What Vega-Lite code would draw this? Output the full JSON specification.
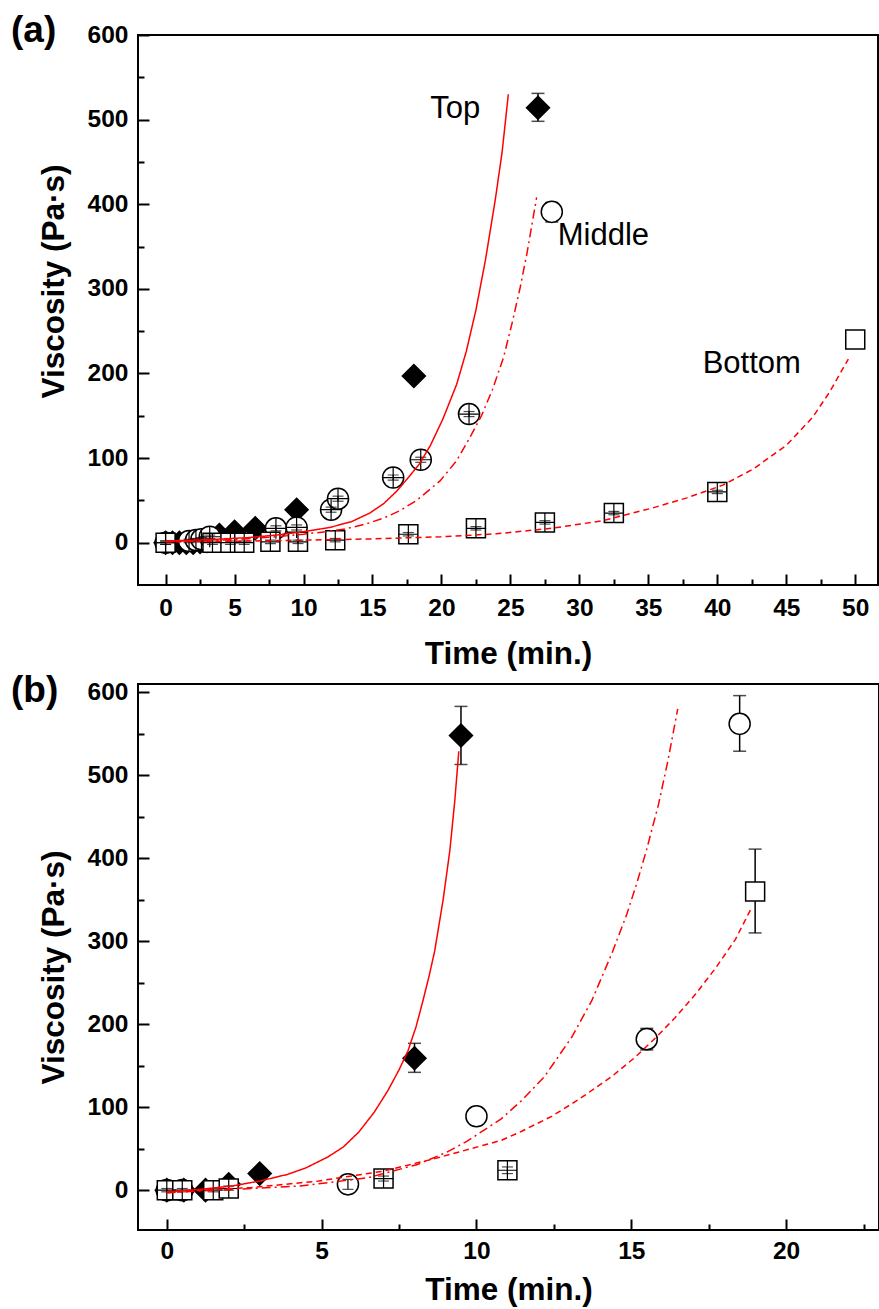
{
  "$schema": "https://vega.github.io/schema/vega-lite/v6.json",
  "background": "white",
  "padding": {"left": 10, "top": 11, "right": 0, "bottom": 0},
  "autosize": {"type": "pad"},
  "config": {
    "view": {"stroke": "black", "strokeWidth": 2},
    "font": "Liberation Sans",
    "axis": {"grid": false, "domain": false, "labelFont": "Liberation Sans", "labelFontSize": 24.5, "labelFontWeight": "bold", "labelColor": "black", "titleFont": "Liberation Sans", "titleFontSize": 31.5, "titleFontWeight": "bold", "titleColor": "black", "tickColor": "black", "tickWidth": 2},
    "title": {"font": "Liberation Sans", "fontSize": 37, "fontWeight": "bold", "anchor": "start", "frame": "group", "color": "black", "baseline": "bottom"}
  },
  "datasets": {
    "pointsA": [
      {"t": 0, "v": 0, "series": "Top"},
      {"t": 0.5, "v": 0, "series": "Top"},
      {"t": 1, "v": 0, "series": "Top"},
      {"t": 1.5, "v": 0, "series": "Top"},
      {"t": 2, "v": 0, "series": "Top"},
      {"t": 2.5, "v": 1, "series": "Top"},
      {"t": 3, "v": 2, "series": "Top"},
      {"t": 3.9, "v": 9, "series": "Top"},
      {"t": 5, "v": 13, "series": "Top"},
      {"t": 6.5, "v": 17, "series": "Top"},
      {"t": 9.5, "v": 39, "series": "Top"},
      {"t": 18, "v": 197, "series": "Top"},
      {"t": 27, "v": 514, "lo": 498, "hi": 531, "series": "Top"},
      {"t": 0, "v": 0, "lo": -2, "hi": 2, "plus": true, "series": "Middle"},
      {"t": 1.7, "v": 2, "lo": 0, "hi": 4, "plus": true, "series": "Middle"},
      {"t": 2.2, "v": 3, "lo": 1, "hi": 5, "plus": true, "series": "Middle"},
      {"t": 2.6, "v": 4, "lo": 2, "hi": 6, "plus": true, "series": "Middle"},
      {"t": 3.2, "v": 7, "lo": 5, "hi": 9, "plus": true, "series": "Middle"},
      {"t": 8, "v": 17, "lo": 14, "hi": 20, "plus": true, "series": "Middle"},
      {"t": 9.5, "v": 18, "lo": 15, "hi": 21, "plus": true, "series": "Middle"},
      {"t": 12, "v": 39, "lo": 36, "hi": 42, "plus": true, "series": "Middle"},
      {"t": 12.5, "v": 52, "lo": 49, "hi": 55, "plus": true, "series": "Middle"},
      {"t": 16.5, "v": 77, "lo": 74, "hi": 80, "plus": true, "series": "Middle"},
      {"t": 18.5, "v": 98, "lo": 95, "hi": 101, "plus": true, "series": "Middle"},
      {"t": 22, "v": 152, "lo": 149, "hi": 155, "plus": true, "series": "Middle"},
      {"t": 28, "v": 391, "lo": 379, "hi": 402, "series": "Middle"},
      {"t": 0, "v": 0, "lo": -2, "hi": 2, "plus": true, "series": "Bottom"},
      {"t": 3.4, "v": 0, "lo": -2, "hi": 2, "plus": true, "series": "Bottom"},
      {"t": 4.7, "v": 0, "lo": -2, "hi": 2, "plus": true, "series": "Bottom"},
      {"t": 5.7, "v": 0, "lo": -2, "hi": 2, "plus": true, "series": "Bottom"},
      {"t": 7.6, "v": 1, "lo": -1, "hi": 3, "plus": true, "series": "Bottom"},
      {"t": 9.6, "v": 1, "lo": -1, "hi": 3, "plus": true, "series": "Bottom"},
      {"t": 12.3, "v": 3, "lo": 1, "hi": 5, "plus": true, "series": "Bottom"},
      {"t": 17.6, "v": 10, "lo": 8, "hi": 12, "plus": true, "series": "Bottom"},
      {"t": 22.5, "v": 17, "lo": 15, "hi": 19, "plus": true, "series": "Bottom"},
      {"t": 27.5, "v": 24, "lo": 22, "hi": 26, "plus": true, "series": "Bottom"},
      {"t": 32.5, "v": 35, "lo": 33, "hi": 37, "plus": true, "series": "Bottom"},
      {"t": 40, "v": 60, "lo": 58, "hi": 62, "plus": true, "series": "Bottom"},
      {"t": 50, "v": 240, "series": "Bottom"}
    ],
    "linesA": [
      {"t": 0, "v": 2, "series": "Top"},
      {"t": 3, "v": 3.5, "series": "Top"},
      {"t": 6, "v": 6, "series": "Top"},
      {"t": 8, "v": 9, "series": "Top"},
      {"t": 10, "v": 13, "series": "Top"},
      {"t": 11.9, "v": 18, "series": "Top"},
      {"t": 13.5, "v": 25, "series": "Top"},
      {"t": 14.8, "v": 35, "series": "Top"},
      {"t": 15.8, "v": 46, "series": "Top"},
      {"t": 16.7, "v": 60, "series": "Top"},
      {"t": 17.5, "v": 75, "series": "Top"},
      {"t": 18.4, "v": 93, "series": "Top"},
      {"t": 19.2, "v": 115, "series": "Top"},
      {"t": 20.1, "v": 146, "series": "Top"},
      {"t": 21.1, "v": 187, "series": "Top"},
      {"t": 21.8, "v": 226, "series": "Top"},
      {"t": 22.5, "v": 275, "series": "Top"},
      {"t": 23.2, "v": 335, "series": "Top"},
      {"t": 23.9, "v": 405, "series": "Top"},
      {"t": 24.4, "v": 462, "series": "Top"},
      {"t": 24.85, "v": 530, "series": "Top"},
      {"t": 0, "v": 1, "series": "Middle"},
      {"t": 5, "v": 3.5, "series": "Middle"},
      {"t": 8, "v": 7, "series": "Middle"},
      {"t": 10, "v": 10, "series": "Middle"},
      {"t": 11.6, "v": 13, "series": "Middle"},
      {"t": 13.1, "v": 16.5, "series": "Middle"},
      {"t": 14.5, "v": 22, "series": "Middle"},
      {"t": 15.8, "v": 29, "series": "Middle"},
      {"t": 17, "v": 38, "series": "Middle"},
      {"t": 18.2, "v": 50, "series": "Middle"},
      {"t": 19.9, "v": 73, "series": "Middle"},
      {"t": 21.1, "v": 97, "series": "Middle"},
      {"t": 22.05, "v": 124, "series": "Middle"},
      {"t": 22.9, "v": 150, "series": "Middle"},
      {"t": 23.7, "v": 181, "series": "Middle"},
      {"t": 24.5, "v": 219, "series": "Middle"},
      {"t": 25.1, "v": 258, "series": "Middle"},
      {"t": 25.7, "v": 301, "series": "Middle"},
      {"t": 26.2, "v": 342, "series": "Middle"},
      {"t": 26.9, "v": 408, "series": "Middle"},
      {"t": 0, "v": 1, "series": "Bottom"},
      {"t": 5, "v": 1.7, "series": "Bottom"},
      {"t": 10, "v": 3, "series": "Bottom"},
      {"t": 15, "v": 4.5, "series": "Bottom"},
      {"t": 20, "v": 7, "series": "Bottom"},
      {"t": 24, "v": 10.5, "series": "Bottom"},
      {"t": 28, "v": 17, "series": "Bottom"},
      {"t": 31.7, "v": 26, "series": "Bottom"},
      {"t": 35.3, "v": 41, "series": "Bottom"},
      {"t": 37.8, "v": 53, "series": "Bottom"},
      {"t": 40.4, "v": 68, "series": "Bottom"},
      {"t": 42.6, "v": 87, "series": "Bottom"},
      {"t": 45, "v": 115, "series": "Bottom"},
      {"t": 46.9, "v": 148, "series": "Bottom"},
      {"t": 48.1, "v": 177, "series": "Bottom"},
      {"t": 49.5, "v": 217, "series": "Bottom"}
    ],
    "labelsA": [
      {"t": 21.0, "v": 512, "label": "Top"},
      {"t": 31.74, "v": 362, "label": "Middle"},
      {"t": 42.5, "v": 211, "label": "Bottom"}
    ],
    "pointsB": [
      {"t": 0, "v": 0, "series": "Top"},
      {"t": 0.55, "v": 0, "series": "Top"},
      {"t": 1.25, "v": 0, "series": "Top"},
      {"t": 2, "v": 7, "series": "Top"},
      {"t": 3, "v": 20, "series": "Top"},
      {"t": 8, "v": 159, "lo": 142, "hi": 177, "series": "Top"},
      {"t": 9.5, "v": 548, "lo": 513, "hi": 583, "series": "Top"},
      {"t": 0, "v": 0, "series": "Middle"},
      {"t": 0.5, "v": 0, "series": "Middle"},
      {"t": 5.85, "v": 7, "lo": 1, "hi": 13, "series": "Middle"},
      {"t": 10, "v": 89, "lo": 79, "hi": 99, "series": "Middle"},
      {"t": 15.5, "v": 182, "lo": 169, "hi": 195, "series": "Middle"},
      {"t": 18.5, "v": 562, "lo": 529, "hi": 596, "series": "Middle"},
      {"t": 0, "v": 0, "lo": -2, "hi": 2, "plus": true, "series": "Bottom"},
      {"t": 0.5, "v": 0, "lo": -2, "hi": 2, "plus": true, "series": "Bottom"},
      {"t": 1.5, "v": 0, "lo": -2, "hi": 2, "plus": true, "series": "Bottom"},
      {"t": 2, "v": 2, "lo": 0, "hi": 5, "plus": true, "series": "Bottom"},
      {"t": 7, "v": 14, "lo": 11, "hi": 17, "plus": true, "series": "Bottom"},
      {"t": 11, "v": 24, "lo": 20, "hi": 28, "plus": true, "series": "Bottom"},
      {"t": 19, "v": 360, "lo": 310, "hi": 411, "series": "Bottom"}
    ],
    "linesB": [
      {"t": 0, "v": -2, "series": "Top"},
      {"t": 1.1, "v": 1, "series": "Top"},
      {"t": 2.1, "v": 5, "series": "Top"},
      {"t": 3.0, "v": 11, "series": "Top"},
      {"t": 3.9, "v": 19, "series": "Top"},
      {"t": 4.5, "v": 27, "series": "Top"},
      {"t": 5.2, "v": 40, "series": "Top"},
      {"t": 5.7, "v": 52, "series": "Top"},
      {"t": 6.2, "v": 70, "series": "Top"},
      {"t": 6.7, "v": 94, "series": "Top"},
      {"t": 7.14, "v": 120, "series": "Top"},
      {"t": 7.5, "v": 145, "series": "Top"},
      {"t": 7.79, "v": 168, "series": "Top"},
      {"t": 8.05, "v": 197, "series": "Top"},
      {"t": 8.27, "v": 228, "series": "Top"},
      {"t": 8.47, "v": 258, "series": "Top"},
      {"t": 8.65, "v": 288, "series": "Top"},
      {"t": 8.92, "v": 349, "series": "Top"},
      {"t": 9.14, "v": 409, "series": "Top"},
      {"t": 9.30, "v": 469, "series": "Top"},
      {"t": 9.43, "v": 529, "series": "Top"},
      {"t": 0, "v": -3, "series": "Middle"},
      {"t": 2.2, "v": 1, "series": "Middle"},
      {"t": 4.3, "v": 5, "series": "Middle"},
      {"t": 6.5, "v": 15, "series": "Middle"},
      {"t": 8.1, "v": 31, "series": "Middle"},
      {"t": 9.0, "v": 45, "series": "Middle"},
      {"t": 9.7, "v": 59, "series": "Middle"},
      {"t": 10.8, "v": 86, "series": "Middle"},
      {"t": 11.46, "v": 108, "series": "Middle"},
      {"t": 12.2, "v": 137, "series": "Middle"},
      {"t": 13.07, "v": 184, "series": "Middle"},
      {"t": 13.72, "v": 228, "series": "Middle"},
      {"t": 14.37, "v": 285, "series": "Middle"},
      {"t": 14.85, "v": 332, "series": "Middle"},
      {"t": 15.18, "v": 370, "series": "Middle"},
      {"t": 15.5, "v": 411, "series": "Middle"},
      {"t": 15.88, "v": 465, "series": "Middle"},
      {"t": 16.18, "v": 517, "series": "Middle"},
      {"t": 16.5, "v": 580, "series": "Middle"},
      {"t": 0, "v": -3, "series": "Bottom"},
      {"t": 1.1, "v": 0, "series": "Bottom"},
      {"t": 2.7, "v": 3, "series": "Bottom"},
      {"t": 4.9, "v": 11, "series": "Bottom"},
      {"t": 7.0, "v": 23, "series": "Bottom"},
      {"t": 8.65, "v": 38, "series": "Bottom"},
      {"t": 10.8, "v": 60, "series": "Bottom"},
      {"t": 11.46, "v": 71, "series": "Bottom"},
      {"t": 12.43, "v": 89, "series": "Bottom"},
      {"t": 13.29, "v": 109, "series": "Bottom"},
      {"t": 14.37, "v": 137, "series": "Bottom"},
      {"t": 15.12, "v": 160, "series": "Bottom"},
      {"t": 15.77, "v": 183, "series": "Bottom"},
      {"t": 16.42, "v": 208, "series": "Bottom"},
      {"t": 17.07, "v": 236, "series": "Bottom"},
      {"t": 17.71, "v": 267, "series": "Bottom"},
      {"t": 18.36, "v": 302, "series": "Bottom"},
      {"t": 18.88, "v": 340, "series": "Bottom"}
    ]
  },
  "spacing": 99,
  "bounds": "flush",
  "vconcat": [
    {
      "width": 740,
      "height": 550,
      "title": {"text": "(a)", "dx": -127, "dy": 32},
      "resolve": {"axis": {"x": "independent", "y": "independent"}},
      "layer": [
        {
          "data": {"name": "pointsA"},
          "transform": [{"filter": "isValid(datum.lo) && datum.hi - datum.lo >= 18"}],
          "mark": {"type": "errorbar", "ticks": true, "size": 13, "thickness": 1.5, "color": "black"},
          "encoding": {
            "x": {"field": "t", "type": "quantitative", "scale": {"domain": [-2, 51.65], "nice": false, "zero": false}, "axis": null},
            "y": {"field": "lo", "type": "quantitative", "scale": {"domain": [-50, 600], "nice": false, "zero": false}, "axis": null},
            "y2": {"field": "hi"}
          }
        },
        {
          "data": {"name": "pointsA"},
          "mark": {"type": "point", "filled": true, "stroke": "black", "strokeWidth": 1.5, "opacity": 1},
          "encoding": {
            "x": {"field": "t", "type": "quantitative", "scale": {"domain": [-2, 51.65], "nice": false, "zero": false},
                  "axis": {"orient": "bottom", "values": [2.5, 7.5, 12.5, 17.5, 22.5, 27.5, 32.5, 37.5, 42.5, 47.5], "tickSize": -6, "labels": false, "title": null}},
            "y": {"field": "v", "type": "quantitative", "scale": {"domain": [-50, 600], "nice": false, "zero": false},
                  "axis": {"orient": "left", "values": [50, 150, 250, 350, 450, 550], "tickSize": -6, "labels": false, "title": null}},
            "shape": {"field": "series", "type": "nominal", "scale": {"domain": ["Top", "Middle", "Bottom"], "range": ["diamond", "circle", "square"]}, "legend": null},
            "fill": {"field": "series", "type": "nominal", "scale": {"domain": ["Top", "Middle", "Bottom"], "range": ["black", "white", "white"]}, "legend": null},
            "size": {"field": "series", "type": "nominal", "scale": {"domain": ["Top", "Middle", "Bottom"], "range": [529, 361, 256]}, "legend": null}
          }
        },
        {
          "data": {"name": "pointsA"},
          "transform": [{"filter": "isValid(datum.lo) && datum.hi - datum.lo < 18"}],
          "mark": {"type": "errorbar", "ticks": true, "size": 11, "thickness": 1.2, "color": "black"},
          "encoding": {
            "x": {"field": "t", "type": "quantitative", "scale": {"domain": [-2, 51.65], "nice": false, "zero": false}, "axis": null},
            "y": {"field": "lo", "type": "quantitative", "scale": {"domain": [-50, 600], "nice": false, "zero": false}, "axis": null},
            "y2": {"field": "hi"}
          }
        },
        {
          "data": {"name": "pointsA"},
          "transform": [{"filter": "datum.plus === true"}],
          "mark": {"type": "point", "filled": false, "stroke": "black", "strokeWidth": 1.2, "shape": "M-1,0L1,0M0,-1L0,1", "opacity": 1},
          "encoding": {
            "x": {"field": "t", "type": "quantitative", "scale": {"domain": [-2, 51.65], "nice": false, "zero": false}, "axis": null},
            "y": {"field": "v", "type": "quantitative", "scale": {"domain": [-50, 600], "nice": false, "zero": false}, "axis": null},
            "size": {"field": "series", "type": "nominal", "scale": {"domain": ["Top", "Middle", "Bottom"], "range": [529, 361, 256]}, "legend": null}
          }
        },
        {
          "data": {"name": "linesA"},
          "mark": {"type": "line", "color": "#ff0000", "strokeWidth": 1.5},
          "encoding": {
            "x": {"field": "t", "type": "quantitative", "scale": {"domain": [-2, 51.65], "nice": false, "zero": false},
                  "axis": {"orient": "bottom", "values": [0, 5, 10, 15, 20, 25, 30, 35, 40, 45, 50], "tickSize": -11, "labelPadding": 22, "title": "Time (min.)", "titlePadding": 19}},
            "y": {"field": "v", "type": "quantitative", "scale": {"domain": [-50, 600], "nice": false, "zero": false},
                  "axis": {"orient": "left", "values": [0, 100, 200, 300, 400, 500, 600], "tickSize": -11, "labelPadding": 21, "title": "Viscosity (Pa·s)", "titlePadding": 17, "titleY": 246}},
            "strokeDash": {"field": "series", "type": "nominal", "scale": {"domain": ["Top", "Middle", "Bottom"], "range": [[1, 0], [9, 4, 2, 4], [6, 4]]}, "legend": null}
          }
        },
        {
          "data": {"name": "labelsA"},
          "mark": {"type": "text", "fontSize": 31, "font": "Liberation Sans", "color": "black", "align": "center", "baseline": "middle"},
          "encoding": {
            "x": {"field": "t", "type": "quantitative", "scale": {"domain": [-2, 51.65], "nice": false, "zero": false}, "axis": null},
            "y": {"field": "v", "type": "quantitative", "scale": {"domain": [-50, 600], "nice": false, "zero": false}, "axis": null},
            "text": {"field": "label"}
          }
        }
      ]
    },
    {
      "width": 741,
      "height": 546,
      "title": {"text": "(b)", "dx": -127, "dy": 35},
      "resolve": {"axis": {"x": "independent", "y": "independent"}},
      "layer": [
        {
          "data": {"name": "pointsB"},
          "transform": [{"filter": "isValid(datum.lo) && datum.hi - datum.lo >= 18"}],
          "mark": {"type": "errorbar", "ticks": true, "size": 13, "thickness": 1.5, "color": "black"},
          "encoding": {
            "x": {"field": "t", "type": "quantitative", "scale": {"domain": [-0.93, 23], "nice": false, "zero": false}, "axis": null},
            "y": {"field": "lo", "type": "quantitative", "scale": {"domain": [-48, 610], "nice": false, "zero": false}, "axis": null},
            "y2": {"field": "hi"}
          }
        },
        {
          "data": {"name": "pointsB"},
          "mark": {"type": "point", "filled": true, "stroke": "black", "strokeWidth": 1.5, "opacity": 1},
          "encoding": {
            "x": {"field": "t", "type": "quantitative", "scale": {"domain": [-0.93, 23], "nice": false, "zero": false},
                  "axis": {"orient": "bottom", "values": [2.5, 7.5, 12.5, 17.5, 22.5], "tickSize": -6, "labels": false, "title": null}},
            "y": {"field": "v", "type": "quantitative", "scale": {"domain": [-48, 610], "nice": false, "zero": false},
                  "axis": {"orient": "left", "values": [50, 150, 250, 350, 450, 550], "tickSize": -6, "labels": false, "title": null}},
            "shape": {"field": "series", "type": "nominal", "scale": {"domain": ["Top", "Middle", "Bottom"], "range": ["diamond", "circle", "square"]}, "legend": null},
            "fill": {"field": "series", "type": "nominal", "scale": {"domain": ["Top", "Middle", "Bottom"], "range": ["black", "white", "white"]}, "legend": null},
            "size": {"field": "series", "type": "nominal", "scale": {"domain": ["Top", "Middle", "Bottom"], "range": [529, 361, 256]}, "legend": null}
          }
        },
        {
          "data": {"name": "pointsB"},
          "transform": [{"filter": "isValid(datum.lo) && datum.hi - datum.lo < 18"}],
          "mark": {"type": "errorbar", "ticks": true, "size": 11, "thickness": 1.2, "color": "black"},
          "encoding": {
            "x": {"field": "t", "type": "quantitative", "scale": {"domain": [-0.93, 23], "nice": false, "zero": false}, "axis": null},
            "y": {"field": "lo", "type": "quantitative", "scale": {"domain": [-48, 610], "nice": false, "zero": false}, "axis": null},
            "y2": {"field": "hi"}
          }
        },
        {
          "data": {"name": "pointsB"},
          "transform": [{"filter": "datum.plus === true"}],
          "mark": {"type": "point", "filled": false, "stroke": "black", "strokeWidth": 1.2, "shape": "M-1,0L1,0M0,-1L0,1", "opacity": 1},
          "encoding": {
            "x": {"field": "t", "type": "quantitative", "scale": {"domain": [-0.93, 23], "nice": false, "zero": false}, "axis": null},
            "y": {"field": "v", "type": "quantitative", "scale": {"domain": [-48, 610], "nice": false, "zero": false}, "axis": null},
            "size": {"field": "series", "type": "nominal", "scale": {"domain": ["Top", "Middle", "Bottom"], "range": [529, 361, 256]}, "legend": null}
          }
        },
        {
          "data": {"name": "linesB"},
          "mark": {"type": "line", "color": "#ff0000", "strokeWidth": 1.5},
          "encoding": {
            "x": {"field": "t", "type": "quantitative", "scale": {"domain": [-0.93, 23], "nice": false, "zero": false},
                  "axis": {"orient": "bottom", "values": [0, 5, 10, 15, 20], "tickSize": -11, "labelPadding": 20, "title": "Time (min.)", "titlePadding": 12}},
            "y": {"field": "v", "type": "quantitative", "scale": {"domain": [-48, 610], "nice": false, "zero": false},
                  "axis": {"orient": "left", "values": [0, 100, 200, 300, 400, 500, 600], "tickSize": -11, "labelPadding": 21, "title": "Viscosity (Pa·s)", "titlePadding": 17, "titleY": 283}},
            "strokeDash": {"field": "series", "type": "nominal", "scale": {"domain": ["Top", "Middle", "Bottom"], "range": [[1, 0], [9, 4, 2, 4], [6, 4]]}, "legend": null}
          }
        }
      ]
    }
  ]
}
